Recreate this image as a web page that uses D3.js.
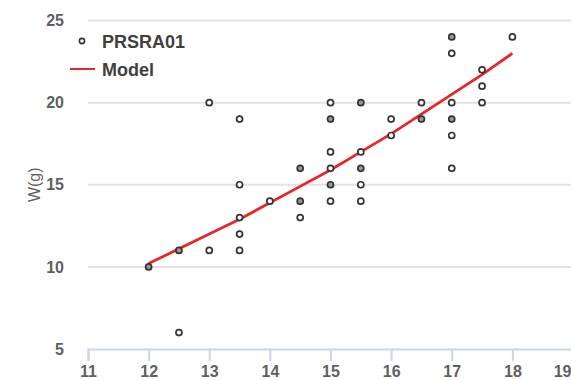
<!DOCTYPE html>
<html>
<head>
<meta charset="utf-8">
<script src="https://cdn.jsdelivr.net/npm/d3@7"></script>
<style>
  body { margin: 0; background: #fff; }
  .tick-label { font-family: "Liberation Sans", sans-serif; font-weight: bold; font-size: 16px; fill: #5f5f5f; }
  .legend-label { font-family: "Liberation Sans", sans-serif; font-weight: bold; font-size: 18px; fill: #404040; }
</style>
</head>
<body>
<div id="chart"></div>
<script>
// Observed points (length, weight)
var lengths = [12, 12.5, 12.5, 13, 13, 13.5, 13.5, 13.5, 13.5, 13.5, 14,
  14.5, 14.5, 14.5, 15, 15, 15, 15, 15, 15, 15.5, 15.5, 15.5, 15.5, 15.5,
  16, 16, 16.5, 16.5, 17, 17, 17, 17, 17, 17, 17.5, 17.5, 17.5, 18];
var weights = [10, 11, 6, 20, 11, 19, 15, 13, 12, 11, 14,
  16, 14, 13, 20, 19, 17, 16, 15, 14, 20, 17, 16, 15, 14,
  19, 18, 20, 19, 24, 23, 20, 19, 18, 16, 22, 21, 20, 24];
// points that look doubled (grey filled)
var doubled = ['12|10', '12.5|11', '14.5|16', '14.5|14', '15|19', '15|15',
  '15.5|20', '15.5|16', '16.5|19', '17|24', '17|19'];

// Model curve
var modelX = [12, 12.5, 13, 13.5, 14, 14.5, 15, 15.5, 16, 16.5, 17, 17.5, 18];
var modelY = [10.2, 11.1, 12.0, 12.9, 13.9, 14.9, 15.9, 17.0, 18.1, 19.3, 20.5, 21.7, 23.0];

var xTicks = [11, 12, 13, 14, 15, 16, 17, 18, 19];
var yTicks = [5, 10, 15, 20, 25];

var w = 571;
var h = 380;

var svg = d3.select('#chart').append('svg').attr('width', w).attr('height', h);

var xScale = d3.scaleLinear().domain([11, 19]).range([88, 573]);
var yScale = d3.scaleLinear().domain([5, 25]).range([349, 20.5]);

// Gridlines
svg.append('g')
  .selectAll('line')
  .data(yTicks.slice(1))
  .enter()
  .append('line')
  .attr('x1', xScale(11))
  .attr('x2', w)
  .attr('y1', (d) => yScale(d))
  .attr('y2', (d) => yScale(d))
  .attr('stroke', '#e2e2e2')
  .attr('stroke-width', 2);

// X axis
var xAxis = d3.axisBottom(xScale).tickValues(xTicks).tickSize(12).tickFormat(d3.format('d'));
var gx = svg.append('g')
  .attr('transform', `translate(0, ${yScale(5)})`)
  .call(xAxis);
gx.select('.domain').attr('stroke', '#c9d6ea').attr('stroke-width', 2);
gx.selectAll('.tick line').attr('stroke', '#c9d6ea').attr('stroke-width', 2);
gx.selectAll('.tick text')
  .attr('class', 'tick-label')
  .attr('y', 28)
  .attr('dy', null);
// last label pushed inside the edge
gx.selectAll('.tick text')
  .filter((d) => d === 19)
  .attr('text-anchor', 'end')
  .attr('x', w - xScale(19));

// Y axis (labels only)
var yAxis = d3.axisLeft(yScale).tickValues(yTicks).tickSize(0).tickPadding(24);
var gy = svg.append('g')
  .attr('transform', `translate(${xScale(11)}, 0)`)
  .call(yAxis);
gy.select('.domain').remove();
gy.selectAll('.tick text').attr('class', 'tick-label');

// Y label
svg.append('text')
  .attr('class', 'tick-label')
  .attr('transform', `translate(40, ${yScale(15)}) rotate(-90)`)
  .attr('text-anchor', 'middle')
  .style('font-weight', 'normal')
  .text('W(g)');

// Model line
var line = d3.line()
  .x((d, i) => xScale(modelX[i]))
  .y((d) => yScale(d));
svg.append('path')
  .datum(modelY)
  .attr('d', line)
  .attr('fill', 'none')
  .attr('stroke', '#e8262a')
  .attr('stroke-width', 2.8);

// Points
svg.append('g')
  .selectAll('circle')
  .data(lengths)
  .enter()
  .append('circle')
  .attr('cx', (d) => xScale(d))
  .attr('cy', (d, i) => yScale(weights[i]))
  .attr('r', 3)
  .attr('fill', (d, i) => doubled.indexOf(d + '|' + weights[i]) >= 0 ? '#9a9a9a' : '#fff')
  .attr('stroke', '#333')
  .attr('stroke-width', 1.7);

// Legend
svg.append('circle')
  .attr('cx', 82).attr('cy', 41).attr('r', 2.6)
  .attr('fill', '#fff').attr('stroke', '#333').attr('stroke-width', 1.6);
svg.append('text').attr('class', 'legend-label').attr('x', 102).attr('y', 48).text('PRSRA01');
svg.append('line')
  .attr('x1', 70).attr('x2', 95).attr('y1', 69).attr('y2', 69)
  .attr('stroke', '#e8262a').attr('stroke-width', 2);
svg.append('text').attr('class', 'legend-label').attr('x', 102).attr('y', 76).text('Model');
</script>
</body>
</html>
